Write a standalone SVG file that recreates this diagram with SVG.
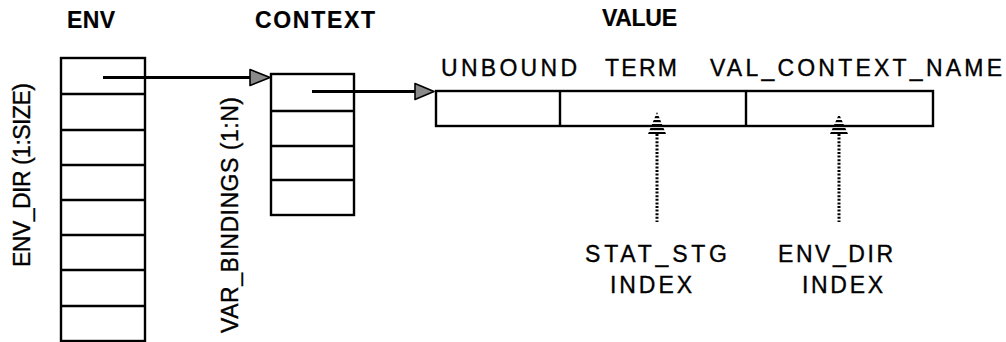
<svg xmlns="http://www.w3.org/2000/svg" width="1006" height="342" viewBox="0 0 1006 342">
<style>
  .box { fill: none; stroke: #000; stroke-width: 2.4; }
  .div { stroke: #000; stroke-width: 2.4; }
  .t { font-family: "Liberation Sans", Arial, sans-serif; font-size: 23px; fill: #000; stroke: #000; stroke-width: 0.35; }
  .b { font-weight: bold; stroke-width: 0.2; }
  .link { stroke: #000; stroke-width: 2.8; fill: none; }
  .head { fill: #8a8a8a; stroke: #000; stroke-width: 1.6; stroke-linejoin: round; }
  .dot { stroke: #000; stroke-width: 3; stroke-dasharray: 2 1.6; fill: none; }
  .hatch { fill: url(#stripes); stroke: none; }
</style>
<defs>
  <pattern id="stripes" patternUnits="userSpaceOnUse" width="4" height="4">
    <rect x="0" y="0" width="4" height="2.2" fill="#000"/>
  </pattern>
</defs>
<rect width="1006" height="342" fill="#fff"/>

<g id="env">
  <text class="t b" x="67" y="28" textLength="48">ENV</text>
  <rect class="box" x="61" y="58" width="84" height="283"/>
  <line class="div" x1="61" y1="94" x2="145" y2="94"/>
  <line class="div" x1="61" y1="130" x2="145" y2="130"/>
  <line class="div" x1="61" y1="165" x2="145" y2="165"/>
  <line class="div" x1="61" y1="200" x2="145" y2="200"/>
  <line class="div" x1="61" y1="235" x2="145" y2="235"/>
  <line class="div" x1="61" y1="270" x2="145" y2="270"/>
  <line class="div" x1="61" y1="306" x2="145" y2="306"/>
  <text class="t" transform="translate(30,267) rotate(-90)" x="0" y="0" textLength="184">ENV_DIR (1:SIZE)</text>
</g>

<g id="context">
  <text class="t b" x="255" y="28" textLength="120">CONTEXT</text>
  <rect class="box" x="271" y="74" width="83" height="141"/>
  <line class="div" x1="271" y1="111" x2="354" y2="111"/>
  <line class="div" x1="271" y1="146" x2="354" y2="146"/>
  <line class="div" x1="271" y1="180" x2="354" y2="180"/>
  <text class="t" transform="translate(238,333) rotate(-90)" x="0" y="0" textLength="236">VAR_BINDINGS (1:N)</text>
</g>

<g id="value">
  <text class="t b" x="602" y="26" textLength="75">VALUE</text>
  <text class="t" x="441" y="76" textLength="136">UNBOUND</text>
  <text class="t" x="605" y="76" textLength="72">TERM</text>
  <text class="t" x="710" y="76" textLength="292">VAL_CONTEXT_NAME</text>
  <rect class="box" x="436" y="91" width="497" height="35"/>
  <line class="div" x1="560" y1="91" x2="560" y2="126"/>
  <line class="div" x1="746" y1="91" x2="746" y2="126"/>
</g>

<g id="stat_stg_index">
  <text class="t" x="585" y="262" textLength="142">STAT_STG</text>
  <text class="t" x="610" y="293" textLength="82">INDEX</text>
</g>

<g id="env_dir_index">
  <text class="t" x="778" y="262" textLength="115">ENV_DIR</text>
  <text class="t" x="802" y="293" textLength="81">INDEX</text>
</g>

<g id="connectors">
  <line class="link" x1="103" y1="77.5" x2="252" y2="77.5"/>
  <polygon class="head" points="250,69.5 270,77.5 250,85.5"/>
  <line class="link" x1="312" y1="91.5" x2="417" y2="91.5"/>
  <polygon class="head" points="415,83.5 434,91.5 415,99.5"/>
  <line class="dot" x1="657" y1="134" x2="657" y2="222"/>
  <polygon class="hatch" points="657,112 666,134 648,134"/>
  <line class="dot" x1="839" y1="134" x2="839" y2="222"/>
  <polygon class="hatch" points="839,114 848,134 830,134"/>
</g>
</svg>
